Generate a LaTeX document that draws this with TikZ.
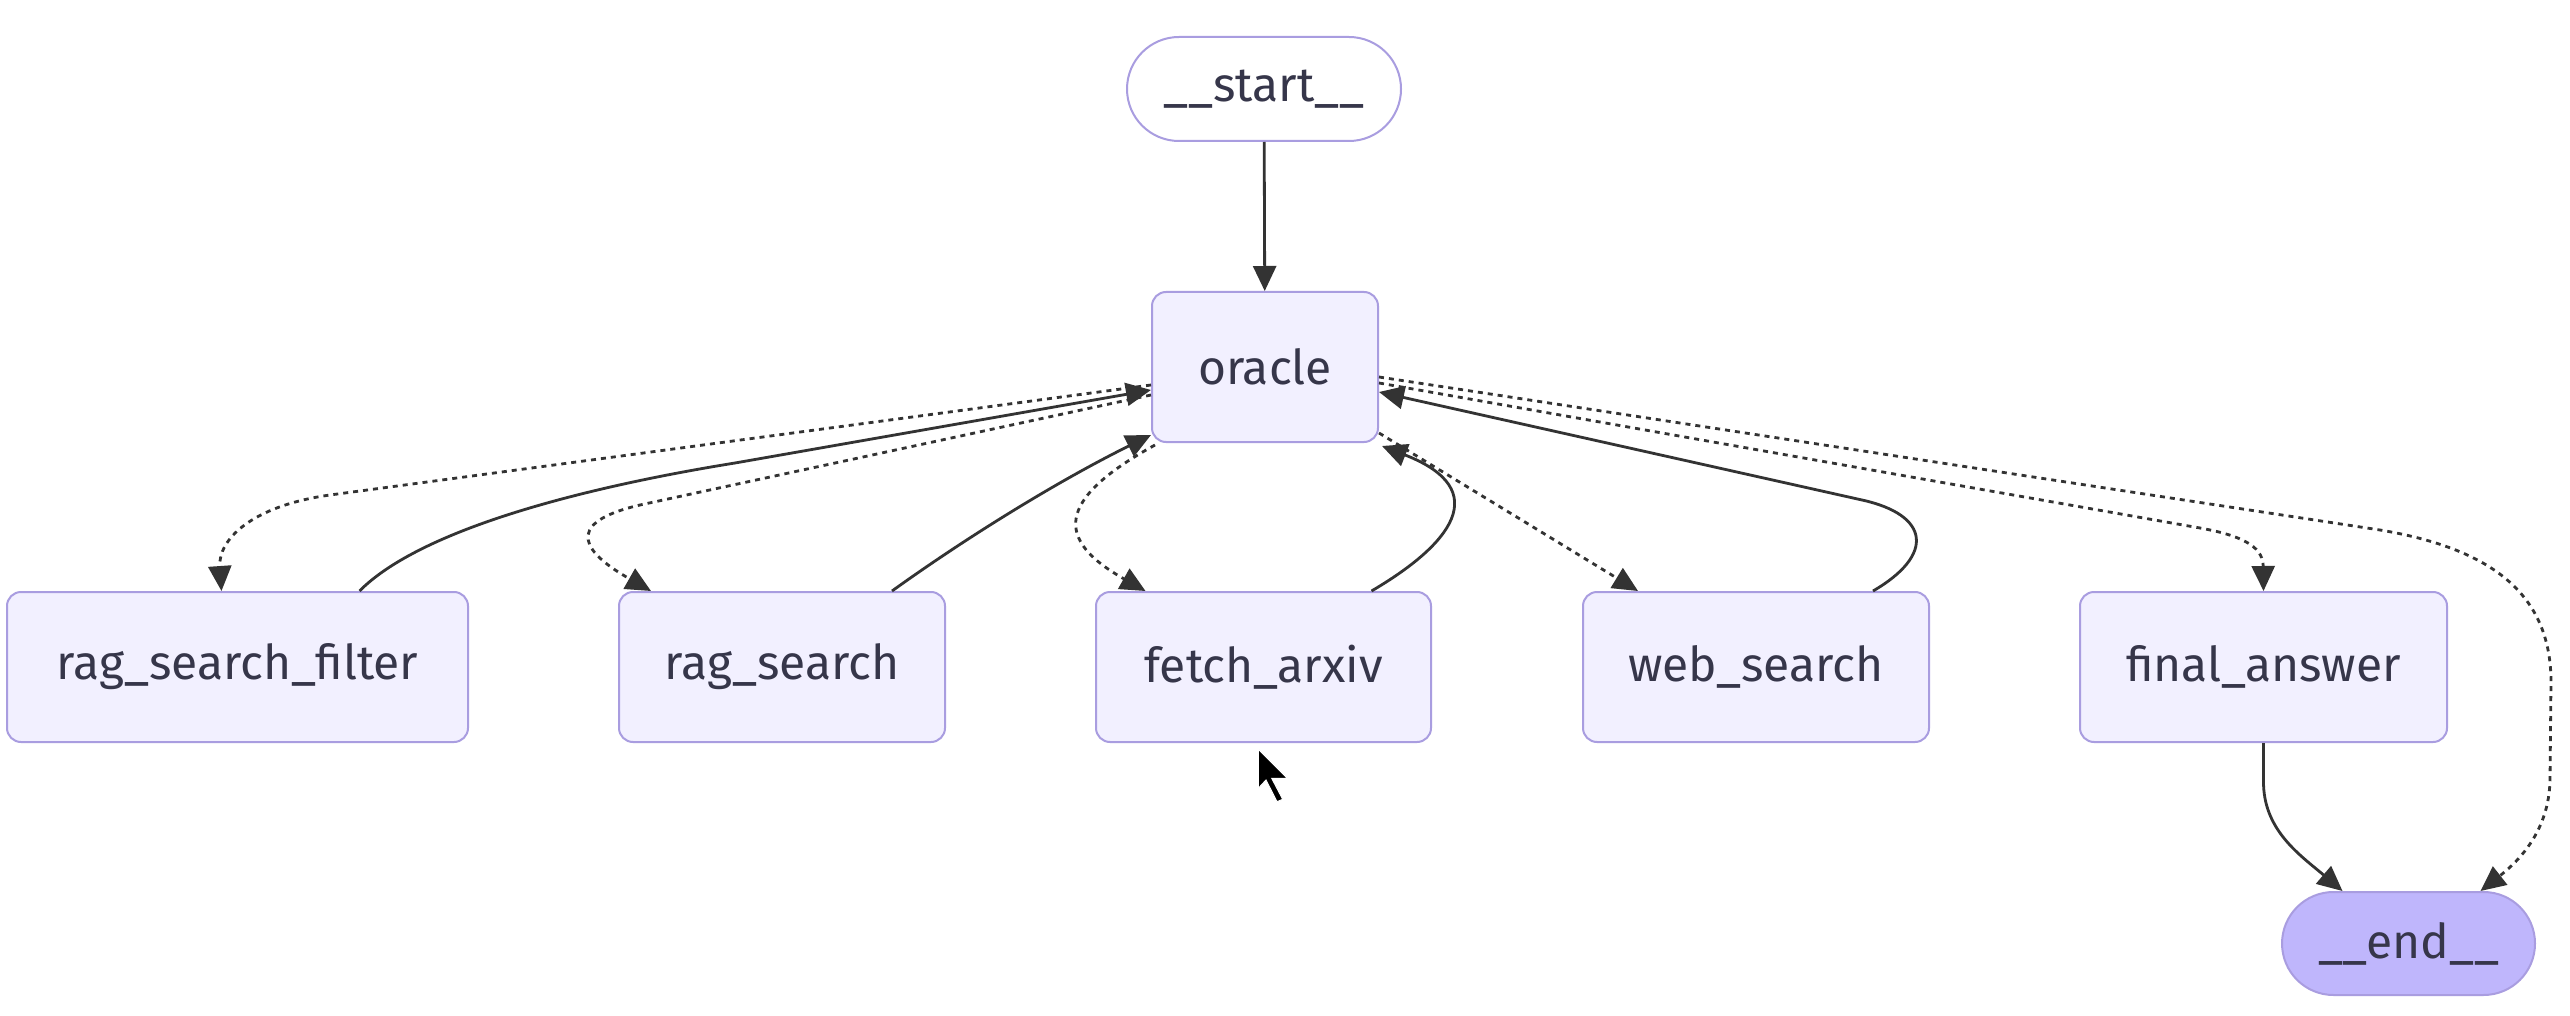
\documentclass[tikz,border=0pt]{standalone}
\usepackage{fontspec}
\setmainfont{Fira Sans}
\usetikzlibrary{arrows.meta,shapes.misc}
\definecolor{nodefill}{HTML}{F2F0FF}
\definecolor{nodedraw}{HTML}{A99DE0}
\definecolor{endfill}{HTML}{BFB6FC}
\definecolor{edgecol}{HTML}{333333}
\definecolor{txtcol}{HTML}{36364A}
\begin{document}
\begin{tikzpicture}[x=1pt,y=-1pt,
  box/.style={draw=nodedraw, fill=nodefill, line width=2pt, rounded corners=14pt,
    text=txtcol, font=\fontsize{48}{56}\selectfont, minimum height=150pt, inner sep=0pt},
  term/.style={rounded rectangle, draw=nodedraw, line width=2pt,
    text=txtcol, font=\fontsize{48}{56}\selectfont, minimum height=104pt, inner sep=0pt},
  flow/.style={draw=edgecol, line width=2.8pt, -{Triangle[width=23pt,length=25pt]}},
  condflow/.style={flow, dash pattern=on 5pt off 5pt}]
\fill[white] (0,0) rectangle (2570,1016);
\useasboundingbox (0,0) rectangle (2570,1016);

\node[term, fill=white, minimum width=274pt] (startn) at (1264,89) {\_\_start\_\_};
\node[box, minimum width=226pt] (oracle) at (1265,367) {oracle};
\node[box, minimum width=461pt] (rsf) at (237.5,667) {rag\_search\_filter};
\node[box, minimum width=326pt] (rag) at (782,667) {rag\_search};
\node[box, minimum width=335pt] (fetch) at (1263.5,667) {fetch\_arxiv};
\node[box, minimum width=346pt] (web) at (1756,667) {web\_search};
\node[box, minimum width=367pt] (final) at (2263.5,667) {final\_answer};
\node[term, fill=endfill, minimum width=253pt, minimum height=103pt] (endn) at (2408.5,943.5) {\_\_end\_\_};

\draw[flow] (startn) -- (oracle);
\draw[condflow] ([yshift=-18pt]oracle.west) -- (330,495) .. controls (251,506) and (218,540) .. ([xshift=-16pt]rsf.north);
\draw[flow] ([xshift=122pt]rsf.north) .. controls (420,530) and (580,488) .. (735,463) -- ([yshift=-23pt]oracle.west);
\draw[condflow] ([yshift=-28pt]oracle.west) -- (640,505) .. controls (575,520) and (570,545) .. ([xshift=-131pt]rag.north);
\draw[flow] ([xshift=110pt]rag.north) .. controls (970,535) and (1060,480) .. ([yshift=8pt]oracle.south west);
\draw[condflow] ([xshift=4pt,yshift=-2pt]oracle.south west) .. controls (1055,500) and (1055,540) .. ([xshift=-118pt]fetch.north);
\draw[flow] ([xshift=108pt]fetch.north) .. controls (1450,545) and (1495,490) .. ([xshift=3pt,yshift=-3pt]oracle.south east);
\draw[condflow] ([yshift=-66pt]oracle.east) -- ([xshift=-118pt]web.north);
\draw[flow] ([xshift=117pt]web.north) .. controls (1935,555) and (1930,515) .. (1862,500) -- ([yshift=-25pt]oracle.east);
\draw[condflow] ([yshift=-16pt]oracle.east) -- (2200,528) .. controls (2250,537) and (2263,550) .. (final.north);
\draw[condflow] ([yshift=-10pt]oracle.east) -- (2380,530) .. controls (2500,550) and (2550,600) .. (2551,680) -- (2550,780) .. controls (2549,830) and (2520,860) .. ([xshift=72pt]endn.north);
\draw[flow] (final.south) -- ([yshift=-38pt]final.south) .. controls (2263,830) and (2300,855) .. ([xshift=-66pt]endn.north);

\fill[black, draw=white, line width=1pt] (1258.3,749.3) -- (1258.3,788.3) -- (1266,780) -- (1277,801.7) -- (1282.7,799.3) -- (1271.7,778.3) -- (1287.3,778.3) -- cycle;
\end{tikzpicture}
\end{document}
